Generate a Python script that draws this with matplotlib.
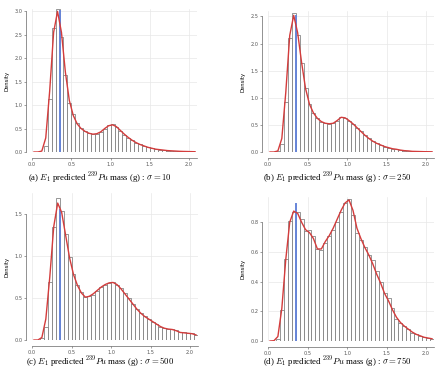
import numpy as np
import matplotlib
matplotlib.use("Agg")
from matplotlib import pyplot as plt

plt.rcParams['font.family'] = ['DejaVu Sans']
plt.rcParams['mathtext.fontset'] = 'cm'

# histogram bins: 0.05 wide, left edges from 0.05 to 2.05
bin_width = 0.05
bin_left = np.arange(41) * bin_width + 0.05
# density curve read at bin centres 0.025 .. 2.075
curve_x = np.arange(42) * bin_width + 0.025

bars_a = [0, 0.005, 0.12, 1.13, 2.64, 3.04, 2.46, 1.64, 1.04, 0.80, 0.62, 0.52, 0.45, 0.40,
          0.38, 0.39, 0.43, 0.50, 0.57, 0.59, 0.54, 0.44, 0.37, 0.30, 0.25, 0.20, 0.16, 0.13,
          0.11, 0.08, 0.06, 0.05, 0.04, 0.03, 0.025, 0.02, 0.015, 0.012, 0.01, 0.008, 0.006]
curve_a = [0, 0, 0.02, 0.3, 1.3, 2.55, 3.0, 2.55, 1.7, 1.1, 0.78, 0.6, 0.5, 0.44, 0.40, 0.38,
           0.39, 0.43, 0.50, 0.56, 0.58, 0.54, 0.46, 0.38, 0.31, 0.25, 0.20, 0.16, 0.13, 0.10,
           0.08, 0.06, 0.05, 0.04, 0.03, 0.025, 0.02, 0.015, 0.012, 0.01, 0.008, 0.006]

bars_b = [0, 0.01, 0.15, 0.92, 2.10, 2.57, 2.16, 1.64, 1.18, 0.88, 0.72, 0.62, 0.56, 0.53,
          0.52, 0.53, 0.58, 0.65, 0.63, 0.58, 0.52, 0.45, 0.38, 0.31, 0.25, 0.20, 0.16, 0.13,
          0.10, 0.08, 0.06, 0.05, 0.035, 0.025, 0.02, 0.012, 0.01, 0.008, 0.006, 0.005, 0.004]
curve_b = [0, 0, 0.02, 0.25, 1.1, 2.15, 2.52, 2.2, 1.65, 1.17, 0.88, 0.72, 0.62, 0.56, 0.53,
           0.52, 0.53, 0.58, 0.64, 0.63, 0.58, 0.52, 0.45, 0.38, 0.31, 0.25, 0.20, 0.16, 0.13,
           0.10, 0.08, 0.06, 0.05, 0.035, 0.025, 0.02, 0.012, 0.01, 0.008, 0.006, 0.005, 0.004]

bars_c = [0, 0.02, 0.15, 0.69, 1.35, 1.69, 1.54, 1.26, 0.99, 0.78, 0.65, 0.57, 0.51, 0.52,
          0.54, 0.58, 0.63, 0.65, 0.68, 0.69, 0.66, 0.62, 0.56, 0.50, 0.43, 0.37, 0.32, 0.28,
          0.25, 0.22, 0.19, 0.16, 0.14, 0.13, 0.13, 0.12, 0.09, 0.09, 0.08, 0.08, 0.06]
curve_c = [0, 0, 0.03, 0.25, 0.75, 1.35, 1.63, 1.52, 1.25, 0.98, 0.78, 0.65, 0.56, 0.51, 0.52,
           0.55, 0.59, 0.63, 0.66, 0.68, 0.685, 0.66, 0.61, 0.55, 0.49, 0.43, 0.37, 0.32, 0.28,
           0.25, 0.22, 0.19, 0.16, 0.14, 0.13, 0.125, 0.11, 0.09, 0.085, 0.08, 0.075, 0.06]

bars_d = [0, 0.013, 0.21, 0.55, 0.81, 0.87, 0.87, 0.82, 0.74, 0.75, 0.71, 0.62, 0.61, 0.66,
          0.71, 0.75, 0.80, 0.87, 0.93, 0.955, 0.85, 0.73, 0.68, 0.63, 0.58, 0.545, 0.47, 0.40,
          0.32, 0.29, 0.22, 0.15, 0.12, 0.10, 0.08, 0.055, 0.045, 0.035, 0.025, 0.02, 0.015]
curve_d = [0, 0.002, 0.03, 0.22, 0.55, 0.80, 0.875, 0.86, 0.80, 0.75, 0.73, 0.69, 0.62, 0.62,
           0.67, 0.71, 0.76, 0.82, 0.88, 0.93, 0.95, 0.88, 0.76, 0.69, 0.63, 0.58, 0.52, 0.45,
           0.39, 0.32, 0.27, 0.21, 0.16, 0.125, 0.10, 0.08, 0.06, 0.045, 0.035, 0.025, 0.02, 0.015]

true_mass = 0.36
true_line_top = [3.0, 2.5, 1.55, 0.92]
y_ticks = [[0, 0.5, 1.0, 1.5, 2.0, 2.5, 3.0],
           [0, 0.5, 1.0, 1.5, 2.0, 2.5],
           [0, 0.5, 1.0, 1.5],
           [0, 0.2, 0.4, 0.6, 0.8]]
y_tops = [3.05, 2.6, 1.75, 0.97]
x_ticks = [0, 0.5, 1.0, 1.5, 2.0]
captions = [r"(a) $E_1$ predicted $^{239}Pu$ mass (g) : $\sigma = \mathbf{10}$",
            r"(b) $E_1$ predicted $^{239}Pu$ mass (g) : $\sigma = \mathbf{250}$",
            r"(c) $E_1$ predicted $^{239}Pu$ mass (g) : $\sigma = 500$",
            r"(d) $E_1$ predicted $^{239}Pu$ mass (g) : $\sigma = \mathbf{750}$"]
bars = [bars_a, bars_b, bars_c, bars_d]
curves = [curve_a, curve_b, curve_c, curve_d]

W, H = 437, 371
# pixel boxes: (left, top, right, bottom) of data area
boxes = [(32, 9, 197, 152), (268, 11, 434, 152), (32, 193, 198, 340), (268, 197, 434, 341)]
cap_pos = [(100, 178), (337, 178), (100, 362), (337, 362)]

fig = plt.figure(figsize=(W / 100, H / 100), dpi=100)
for i in range(4):
    l, t, r, b = boxes[i]
    ax = fig.add_axes([l / W, 1 - b / H, (r - l) / W, (b - t) / H])
    ax.set_xlim(0, 2.1)
    ax.set_ylim(0, y_tops[i])
    ax.grid(True, color='#e8e8e8', lw=0.5)
    ax.set_axisbelow(True)
    ax.bar(bin_left, bars[i], width=bin_width, align='edge', color='white',
           edgecolor='#7a7a7a', lw=0.55, zorder=2)
    ax.plot([true_mass, true_mass], [0, true_line_top[i]], color='#6684d8', lw=1.4, zorder=3)
    ax.plot(curve_x, curves[i], color='#d43c3c', lw=1.0, zorder=4)
    ax.set_xticks(x_ticks)
    ax.set_yticks(y_ticks[i])
    ax.set_xticklabels(["%.1f" % v for v in x_ticks])
    ax.set_yticklabels(["%.1f" % v for v in y_ticks[i]], rotation=90, va='center')
    ax.tick_params(labelsize=3.6, length=1.5, width=0.4, pad=1.5, colors='#555555')
    for s in ['top', 'right']:
        ax.spines[s].set_visible(False)
    ax.spines['left'].set_position(('outward', 4))
    ax.spines['bottom'].set_position(('outward', 4))
    ax.spines['left'].set_bounds(0, y_ticks[i][-1])
    ax.spines['bottom'].set_bounds(0, 2.1)
    for s in ['left', 'bottom']:
        ax.spines[s].set_linewidth(0.5)
        ax.spines[s].set_color('#666666')
    ax.set_ylabel("Density", fontsize=3.8, labelpad=3)
    fig.text(cap_pos[i][0] / W, 1 - cap_pos[i][1] / H, captions[i], ha='center', va='center',
             fontsize=6.3, family='Liberation Serif')

fig.savefig("out.png", dpi=100)
